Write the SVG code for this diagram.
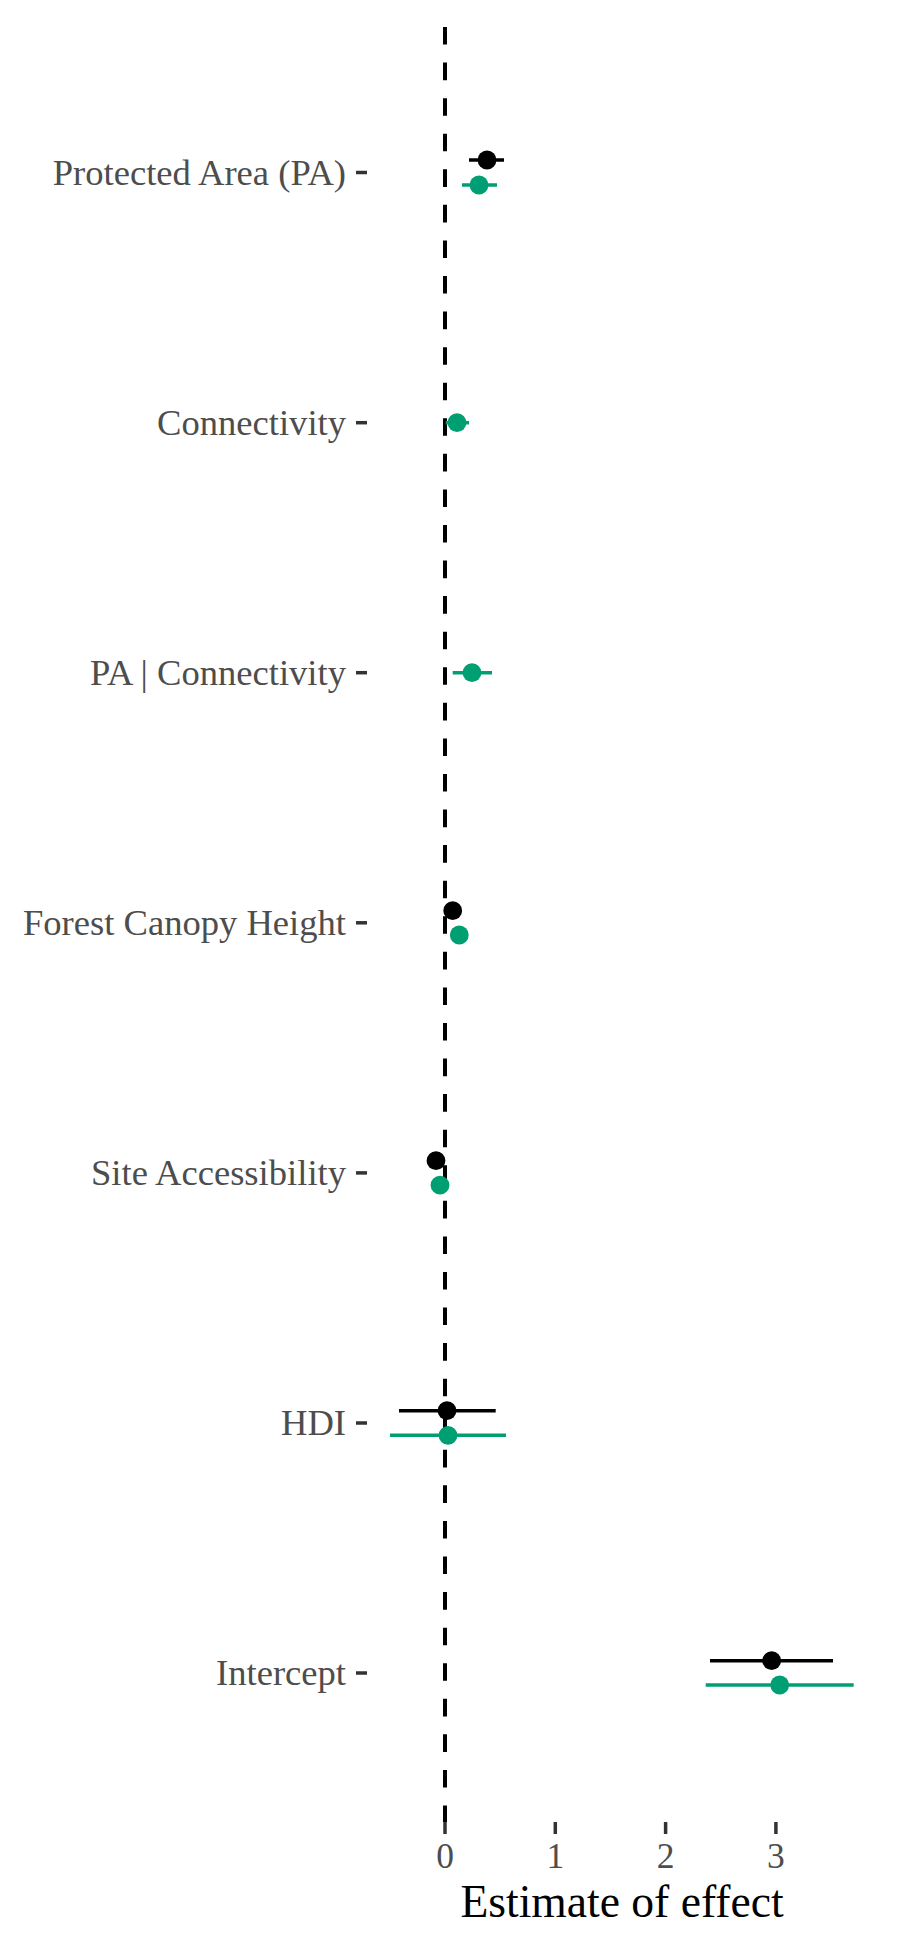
<svg xmlns="http://www.w3.org/2000/svg" width="900" height="1950" viewBox="0 0 900 1950">
<style>
.lbl{font-family:"Liberation Serif","Times New Roman",serif;font-size:36.6px;fill:#4d4d4d;text-anchor:end}
.xl{font-family:"Liberation Serif","Times New Roman",serif;font-size:35.5px;fill:#4d4d4d;text-anchor:middle}
.ttl{font-family:"Liberation Serif","Times New Roman",serif;font-size:45.6px;fill:#000000;text-anchor:middle}
.tick{stroke:#333333;stroke-width:3.5}
.bk{stroke:#000000;stroke-width:3.6}
.gr{stroke:#009E73;stroke-width:3.6}
.pbk{fill:#000000}
.pgr{fill:#009E73}
</style>
<rect x="0" y="0" width="900" height="1950" fill="#ffffff"/>
<g id="zero-line">
<line x1="445" y1="27" x2="445" y2="1822" stroke="#000000" stroke-width="4" stroke-dasharray="17.6 17.97"/>
</g>
<g id="y-axis">
<line class="tick" x1="356" y1="172.5" x2="367" y2="172.5"/>
<line class="tick" x1="356" y1="422.7" x2="367" y2="422.7"/>
<line class="tick" x1="356" y1="672.7" x2="367" y2="672.7"/>
<line class="tick" x1="356" y1="922.8" x2="367" y2="922.8"/>
<line class="tick" x1="356" y1="1172.9" x2="367" y2="1172.9"/>
<line class="tick" x1="356" y1="1423" x2="367" y2="1423"/>
<line class="tick" x1="356" y1="1673" x2="367" y2="1673"/>
<text class="lbl" x="346" y="184.5">Protected Area (PA)</text>
<text class="lbl" x="346" y="434.7">Connectivity</text>
<text class="lbl" x="346" y="684.7">PA | Connectivity</text>
<text class="lbl" x="346" y="934.8">Forest Canopy Height</text>
<text class="lbl" x="346" y="1185">Site Accessibility</text>
<text class="lbl" x="346" y="1435">HDI</text>
<text class="lbl" x="346" y="1685">Intercept</text>
</g>
<g id="x-axis">
<line class="tick" x1="445" y1="1822" x2="445" y2="1834"/>
<line class="tick" x1="555.3" y1="1822" x2="555.3" y2="1834"/>
<line class="tick" x1="665.6" y1="1822" x2="665.6" y2="1834"/>
<line class="tick" x1="775.9" y1="1822" x2="775.9" y2="1834"/>
<text class="xl" x="445" y="1868">0</text>
<text class="xl" x="555.3" y="1868">1</text>
<text class="xl" x="665.6" y="1868">2</text>
<text class="xl" x="775.9" y="1868">3</text>
<text class="ttl" x="622" y="1917">Estimate of effect</text>
</g>
<g id="row-pa">
<line class="bk" x1="469" y1="160" x2="504" y2="160"/>
<circle class="pbk" cx="487" cy="160" r="9.4"/>
<line class="gr" x1="462" y1="185" x2="497" y2="185"/>
<circle class="pgr" cx="479" cy="185" r="9.4"/>
</g>
<g id="row-connectivity">
<line class="gr" x1="445.7" y1="422.7" x2="469" y2="422.7"/>
<circle class="pgr" cx="457" cy="422.7" r="9.4"/>
</g>
<g id="row-pa-connectivity">
<line class="gr" x1="452.7" y1="672.7" x2="492" y2="672.7"/>
<circle class="pgr" cx="472" cy="672.7" r="9.4"/>
</g>
<g id="row-forest">
<line class="bk" x1="448" y1="910.7" x2="457" y2="910.7"/>
<circle class="pbk" cx="452.7" cy="910.7" r="9.4"/>
<line class="gr" x1="454" y1="935" x2="464" y2="935"/>
<circle class="pgr" cx="459.3" cy="935" r="9.4"/>
</g>
<g id="row-site">
<line class="bk" x1="431" y1="1160.7" x2="441" y2="1160.7"/>
<circle class="pbk" cx="436" cy="1160.7" r="9.4"/>
<line class="gr" x1="435" y1="1185.2" x2="445" y2="1185.2"/>
<circle class="pgr" cx="440" cy="1185.2" r="9.4"/>
</g>
<g id="row-hdi">
<line class="bk" x1="399" y1="1410.7" x2="495.7" y2="1410.7"/>
<circle class="pbk" cx="447" cy="1410.7" r="9.4"/>
<line class="gr" x1="390" y1="1435.3" x2="506" y2="1435.3"/>
<circle class="pgr" cx="448" cy="1435.3" r="9.4"/>
</g>
<g id="row-intercept">
<line class="bk" x1="710" y1="1660.7" x2="833" y2="1660.7"/>
<circle class="pbk" cx="771.7" cy="1660.7" r="9.4"/>
<line class="gr" x1="705.7" y1="1685" x2="853.7" y2="1685"/>
<circle class="pgr" cx="779.7" cy="1685" r="9.4"/>
</g>
</svg>
